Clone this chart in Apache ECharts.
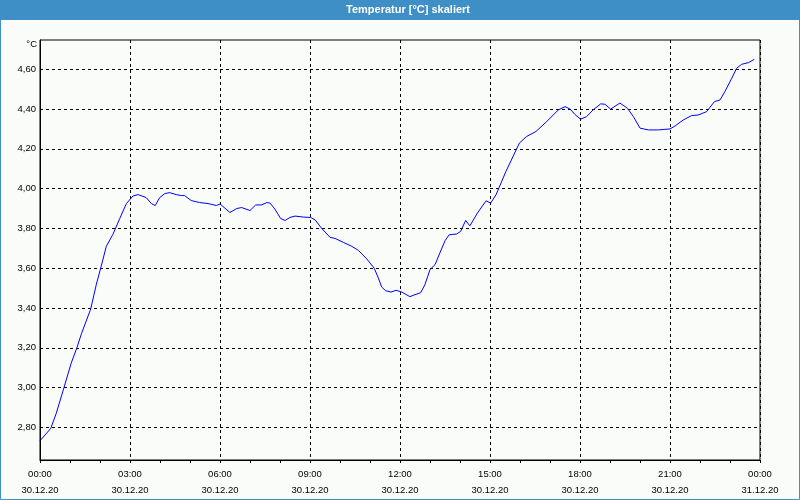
<!DOCTYPE html>
<html>
<head>
<meta charset="utf-8">
<script src="https://cdn.jsdelivr.net/npm/echarts@6/dist/echarts.min.js"></script>
<style>
html,body{margin:0;padding:0;background:#f9fcf9;}
#chart{width:800px;height:500px;}
</style>
</head>
<body>
<div id="chart"></div>
<script>
// Hours since 30.12.20 00:00
var hours = [0.00,0.36,0.54,0.80,1.04,1.23,1.38,1.69,1.88,2.04,2.21,2.43,2.66,2.88,3.10,3.27,3.54,3.71,3.84,3.99,
  4.16,4.32,4.54,4.71,4.82,5.04,5.32,5.60,5.88,6.00,6.33,6.56,6.72,7.00,7.19,7.39,7.56,7.67,7.83,8.02,
  8.17,8.33,8.50,8.78,9.02,9.17,9.39,9.67,9.83,10.11,10.39,10.61,10.89,11.14,11.28,11.39,11.52,11.70,11.87,12.06,
  12.33,12.50,12.69,12.83,13.00,13.17,13.33,13.50,13.64,13.89,14.02,14.19,14.33,14.58,14.87,15.02,15.20,15.53,15.98,16.22,
  16.53,16.89,17.28,17.50,17.67,17.83,18.02,18.22,18.44,18.69,18.83,19.02,19.33,19.58,19.78,20.00,20.28,20.61,21.00,21.17,
  21.44,21.72,21.94,22.22,22.48,22.67,22.83,23.06,23.22,23.39,23.61,23.81];
var temps = [2.733,2.795,2.87,3.00,3.123,3.20,3.27,3.395,3.52,3.61,3.71,3.77,3.85,3.925,3.963,3.97,3.955,3.925,3.915,3.955,
  3.975,3.98,3.97,3.965,3.965,3.94,3.93,3.925,3.915,3.923,3.88,3.90,3.905,3.89,3.918,3.918,3.93,3.927,3.897,3.85,
  3.84,3.855,3.862,3.857,3.855,3.843,3.80,3.755,3.75,3.73,3.71,3.69,3.647,3.60,3.55,3.505,3.487,3.48,3.489,3.48,
  3.457,3.467,3.477,3.517,3.593,3.618,3.677,3.738,3.768,3.772,3.785,3.84,3.813,3.877,3.939,3.927,3.969,4.086,4.229,4.262,
  4.287,4.337,4.396,4.412,4.40,4.373,4.349,4.362,4.396,4.426,4.424,4.40,4.43,4.404,4.362,4.304,4.295,4.295,4.30,4.315,
  4.345,4.367,4.37,4.387,4.437,4.446,4.488,4.555,4.605,4.625,4.633,4.65];
var yTicks = [2.8,3.0,3.2,3.4,3.6,3.8,4.0,4.2,4.4,4.6];
var xTimeLabels = ['00:00','03:00','06:00','09:00','12:00','15:00','18:00','21:00','00:00'];
var xDateLabels = ['30.12.20','30.12.20','30.12.20','30.12.20','30.12.20','30.12.20','30.12.20','30.12.20','31.12.20'];
var titleText = 'Temperatur [°C] skaliert';
var unitText = '°C';

var data = hours.map(function(h, i){ return [h, temps[i]]; });
var font = 'Liberation Sans';
var chart = echarts.init(document.getElementById('chart'), null, {renderer:'canvas'});
chart.setOption({
  animation: false,
  backgroundColor: '#f9fcf9',
  graphic: [
    {type:'rect', shape:{x:0,y:0,width:800,height:20}, style:{fill:'#3d8fc6'}, silent:true},
    {type:'rect', shape:{x:0.5,y:0.5,width:799,height:499}, style:{fill:null, stroke:'#3d8fc6', lineWidth:1}, silent:true},
    {type:'text', x:408, y:10, style:{text:titleText, fill:'#ffffff', font:'bold 11px "Liberation Sans"', align:'center', verticalAlign:'middle'}},
    {type:'text', x:37, y:44, style:{text:unitText, fill:'#000000', font:'9.5px "Liberation Sans"', align:'right', verticalAlign:'middle'}}
  ],
  grid: {left:40, right:40, top:40, bottom:40, show:true, borderColor:'#000', borderWidth:1, backgroundColor:'transparent'},
  xAxis: {
    type:'value', min:0, max:24, interval:3,
    axisLine:{show:true, lineStyle:{color:'#000', width:1}},
    axisTick:{show:true, length:3, lineStyle:{color:'#000'}},
    minorTick:{show:true, splitNumber:3, length:3, lineStyle:{color:'#000'}},
    splitLine:{show:true, lineStyle:{color:'#000', type:[3,3], width:1}},
    axisLabel:{
      fontFamily:font, fontSize:9.5, color:'#000', margin:6, lineHeight:16,
      formatter:function(v){ var i = Math.round(v/3); return xTimeLabels[i] + '\n' + xDateLabels[i]; }
    }
  },
  yAxis: {
    type:'value', min:2.636, max:4.747,
    axisLine:{show:true, lineStyle:{color:'#000'}},
    axisTick:{show:false, customValues:yTicks},
    splitLine:{show:true, lineStyle:{color:'#000', type:[3,3], width:1}},
    axisLabel:{
      customValues:yTicks, fontFamily:font, fontSize:9.5, color:'#000', margin:4,
      formatter:function(v){ return v.toFixed(2).replace('.', ','); }
    }
  },
  series: [{
    type:'line', data:data, showSymbol:false, symbol:'none',
    lineStyle:{color:'#0000ff', width:1}, smooth:false
  }]
});
</script>
</body>
</html>
